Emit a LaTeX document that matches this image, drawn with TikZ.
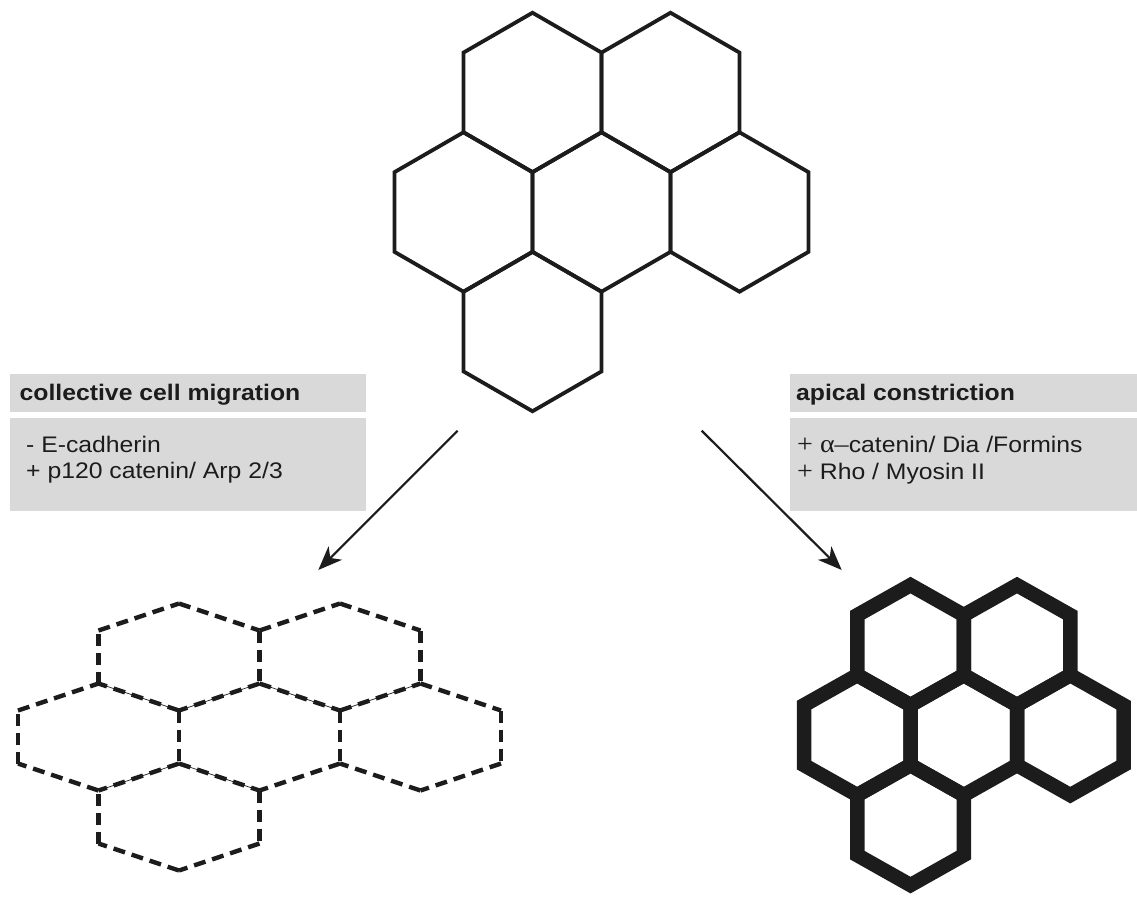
\documentclass[tikz,border=0pt]{standalone}
\usepackage{fontspec}
\setmainfont{Liberation Sans}[FakeStretch=1.1]
\newfontfamily\serifsym{Liberation Serif}[FakeStretch=1.1]
\usetikzlibrary{arrows.meta}
\definecolor{boxgrey}{HTML}{D9D9D9}
\definecolor{ink}{HTML}{1C1C1C}
\tikzset{
  thinhex/.style={draw=ink, line width=3.8pt, line join=miter},
  thickhex/.style={draw=ink, line width=14.5pt, line join=miter},
  dashedge/.style={draw=ink, line width=4.4pt, dash pattern=on 12pt off 7pt},
  hairedge/.style={draw=ink, line width=0.7pt},
  greybox/.style={fill=boxgrey, draw=none, inner sep=0pt, anchor=north west},
  boxtitle/.style={anchor=base west, inner sep=0pt, text=ink, font=\fontsize{22.5}{26}\selectfont\bfseries},
  boxtext/.style={anchor=base west, inner sep=0pt, text=ink, font=\fontsize{22.5}{26}\selectfont},
  arr/.style={draw=ink, line width=2.2pt, -{Stealth[length=24pt,width=19pt,inset=7pt]}}
}
\newcommand\symtext[1]{{\serifsym\fontsize{25.5}{26}\selectfont #1}}
\begin{document}
\begin{tikzpicture}[x=1pt,y=-1pt]
\useasboundingbox (0,0) rectangle (1137,897);

% ---------- top epithelium ----------
\foreach \i/\j in {-0.5/-1, 0.5/-1, -1/0, 0/0, 1/0, -0.5/1}{
  \pgfmathsetmacro\cx{601.5+\i*138}
  \pgfmathsetmacro\cy{212+\j*119.55}
  \draw[thinhex] (\cx+69,\cy-39.85) -- (\cx,\cy-79.7) -- (\cx-69,\cy-39.85)
     -- (\cx-69,\cy+39.85) -- (\cx,\cy+79.7) -- (\cx+69,\cy+39.85) -- cycle;
}

% ---------- grey boxes ----------
\node[greybox, minimum width=355.7pt, minimum height=38.4pt] (lt) at (10,373.3) {};
\node[greybox, minimum width=355.7pt, minimum height=93.4pt] (lb) at (10,417.3) {};
\node[greybox, minimum width=347.7pt, minimum height=38.4pt] (rt) at (789.3,373.3) {};
\node[greybox, minimum width=347.7pt, minimum height=93.4pt] (rb) at (789.3,417.3) {};

\node[boxtitle] (ltt) at (19.5,400) {collective cell migration};
\node[boxtext] (lb1) at (26,452.5) {- E-cadherin};
\node[boxtext] (lb2) at (26,478.8) {+ p120 catenin/ Arp 2/3};

\node[boxtitle] (rtt) at (796,400) {apical constriction};
\node[boxtext] (rb1) at (797,452.5) {\symtext{+ α–}catenin/ Dia /Formins};
\node[boxtext] (rb2) at (797,479.2) {\symtext{+} Rho / Myosin II};

% ---------- arrows ----------
\coordinate (a1s) at (457.7,430.7);
\coordinate (a1e) at (318.3,570);
\coordinate (a2s) at (701.7,430.7);
\coordinate (a2e) at (841.7,570);
\draw[arr] (a1s) -- (a1e);
\draw[arr] (a2s) -- (a2e);

% ---------- dashed epithelium (migration) ----------
\foreach \n/\cx/\cy in {A/179/657, B/340/657, L/98.5/737, M/259.5/737, R/420.5/737, D/179/817}{
  \coordinate (\n-N)  at (\cx,\cy-53.5);
  \coordinate (\n-NE) at (\cx+80.5,\cy-26.5);
  \coordinate (\n-SE) at (\cx+80.5,\cy+26.5);
  \coordinate (\n-S)  at (\cx,\cy+53.5);
  \coordinate (\n-SW) at (\cx-80.5,\cy+26.5);
  \coordinate (\n-NW) at (\cx-80.5,\cy-26.5);
}
\foreach \p/\q in {A-SE/A-S, A-S/A-SW, B-SW/B-S, B-S/B-SE, L-SE/L-S, M-SW/M-S}{
  \draw[hairedge] (\p) -- (\q);
}
\foreach \p/\q in {A-NW/A-N, A-N/A-NE, B-NW/B-N, B-N/B-NE, B-NE/B-SE,
                   R-N/R-NE, R-NE/R-SE, R-SE/R-S, R-S/R-SW, M-SE/M-S,
                   D-NE/D-SE, D-SE/D-S, D-S/D-SW, D-SW/D-NW,
                   L-S/L-SW, L-SW/L-NW, L-NW/L-N, A-SW/A-NW,
                   A-NE/A-SE, L-NE/L-SE, M-NE/M-SE,
                   A-SE/A-S, A-S/A-SW, B-SW/B-S, B-S/B-SE, L-SE/L-S, M-SW/M-S}{
  \draw[dashedge] (\p) -- (\q);
}

% ---------- thick epithelium (apical constriction) ----------
\foreach \i/\j in {-0.5/-1, 0.5/-1, -1/0, 0/0, 1/0, -0.5/1}{
  \pgfmathsetmacro\cx{963.75+\i*106.5}
  \pgfmathsetmacro\cy{735.1+\j*90}
  \draw[thickhex] (\cx+53.25,\cy-30) -- (\cx,\cy-60) -- (\cx-53.25,\cy-30)
     -- (\cx-53.25,\cy+30) -- (\cx,\cy+60) -- (\cx+53.25,\cy+30) -- cycle;
}
\end{tikzpicture}
\end{document}
